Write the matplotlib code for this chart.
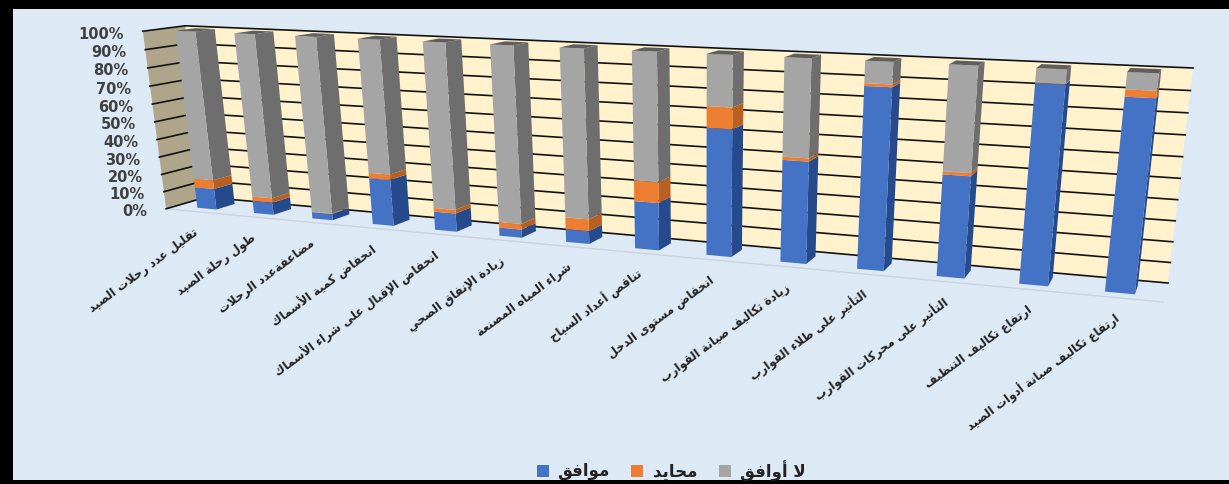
import numpy as np
import matplotlib
matplotlib.use('Agg')
import matplotlib.pyplot as plt
from matplotlib.patches import Polygon, Rectangle

# 数据
categories = ['تقليل عدد رحلات الصيد', 'طول رحلة الصيد', 'مضاعفةعدد الرحلات', 'انخفاض كمية الأسماك',
              'انخفاض الإقبال على شراء الأسماك', 'زيادة الإنفاق الصحي', 'شراء المياه المصنعة',
              'تناقص أعداد السياح', 'انخفاض مستوى الدخل', 'زيادة تكاليف صيانة القوارب',
              'التأثير على طلاء القوارب', 'التأثير على محركات القوارب', 'ارتفاع تكاليف التنظيف',
              'ارتفاع تكاليف صيانة أدوات الصيد']
agree = [12, 7, 3.6, 25.5, 10, 4.4, 6.8, 24.7, 64.3, 51, 88.4, 49.3, 93.4, 89.3]
neutral = [5, 2.5, 0.3, 3, 2, 3, 6.3, 10.6, 10.6, 1.6, 1.3, 1.5, 0.2, 3.2]
disagree = [83, 90.5, 96.1, 71.5, 88, 92.6, 86.9, 64.7, 25.1, 47.4, 10.3, 49.2, 6.4, 7.5]
y_ticks = [0, 10, 20, 30, 40, 50, 60, 70, 80, 90, 100]
legend_names = ['موافق', 'محايد', 'لا أوافق']

front_colors = ['#4472C4', '#ED7D31', '#A5A5A5']
side_colors = ['#264B8C', '#B85F22', '#6E6E6E']
top_colors = ['#2E5597', '#C5651F', '#5E5E5E']

# 阿拉伯文连写: 基础码位和字形数量
forms = {'ء': (0xFE80, 1), 'آ': (0xFE81, 2), 'أ': (0xFE83, 2), 'ؤ': (0xFE85, 2), 'إ': (0xFE87, 2),
         'ئ': (0xFE89, 4), 'ا': (0xFE8D, 2), 'ب': (0xFE8F, 4), 'ة': (0xFE93, 2), 'ت': (0xFE95, 4),
         'ث': (0xFE99, 4), 'ج': (0xFE9D, 4), 'ح': (0xFEA1, 4), 'خ': (0xFEA5, 4), 'د': (0xFEA9, 2),
         'ذ': (0xFEAB, 2), 'ر': (0xFEAD, 2), 'ز': (0xFEAF, 2), 'س': (0xFEB1, 4), 'ش': (0xFEB5, 4),
         'ص': (0xFEB9, 4), 'ض': (0xFEBD, 4), 'ط': (0xFEC1, 4), 'ظ': (0xFEC5, 4), 'ع': (0xFEC9, 4),
         'غ': (0xFECD, 4), 'ف': (0xFED1, 4), 'ق': (0xFED5, 4), 'ك': (0xFED9, 4), 'ل': (0xFEDD, 4),
         'م': (0xFEE1, 4), 'ن': (0xFEE5, 4), 'ه': (0xFEE9, 4), 'و': (0xFEED, 2), 'ى': (0xFEEF, 2),
         'ي': (0xFEF1, 4)}
lam_alef = {'آ': 0xFEF5, 'أ': 0xFEF7, 'إ': 0xFEF9, 'ا': 0xFEFB}


def shape(text):
    out = []
    prev_joins = False
    i = 0
    while i < len(text):
        c = text[i]
        if c not in forms:
            out.append(c)
            prev_joins = False
            i += 1
            continue
        if c == 'ل' and i + 1 < len(text) and text[i + 1] in lam_alef:
            out.append(chr(lam_alef[text[i + 1]] + (1 if prev_joins else 0)))
            prev_joins = False
            i += 2
            continue
        base, n = forms[c]
        nxt = text[i + 1] if i + 1 < len(text) else ' '
        joins_next = n == 4 and nxt in forms and nxt != 'ء'
        if n == 1:
            g = base
        elif prev_joins and joins_next:
            g = base + 3
        elif prev_joins:
            g = base + 1
        elif joins_next:
            g = base + 2
        else:
            g = base
        out.append(chr(g))
        prev_joins = joins_next
        i += 1
    return ''.join(out)[::-1]


# 透视投影: 用箱体角点拟合相机矩阵 (x类别, d深度, z百分比)
n_cat = len(categories)
box_3d = [(-0.05, 0, 0), (-0.05, 0, 100), (-0.05, 1, 100), (-0.05, 1, 0), (n_cat, 1, 100), (n_cat, 1, 0), (n_cat, 0, 0)]
box_px = [(166, 210), (143, 32), (185, 27), (206, 198), (1193, 69), (1168, 284), (1163, 303)]
rows = []
for (X, D, Z), (u, v) in zip(box_3d, box_px):
    rows.append([X, D, Z, 1, 0, 0, 0, 0, -u * X, -u * D, -u * Z, -u])
    rows.append([0, 0, 0, 0, X, D, Z, 1, -v * X, -v * D, -v * Z, -v])
P = np.linalg.svd(np.array(rows, dtype=float))[2][-1].reshape(3, 4)


def proj(x, d, z):
    p = P @ np.array([x, d, z, 1.0])
    return p[0] / p[2], p[1] / p[2]


fig = plt.figure(figsize=(12.29, 4.85), dpi=100, facecolor='black')
ax = fig.add_axes([0, 0, 1, 1])
ax.set_xlim(0, 1229)
ax.set_ylim(485, 0)
ax.axis('off')
ax.add_patch(Rectangle((13, 10), 1216, 471, fc='#DEE9F6', ec='none', zorder=0))
ax.add_patch(Rectangle((0, 0), 1229, 1, fc='#F4F4F4', ec='none', zorder=0))


def face(pts, color, z=3):
    ax.add_patch(Polygon([proj(*p) for p in pts], closed=True, fc=color, ec='none', zorder=z))


# 墙面
x_left = -0.05
face([(x_left, 1, 0), (n_cat, 1, 0), (n_cat, 1, 100), (x_left, 1, 100)], '#FFF2CC', 1)
face([(x_left, 0, 0), (x_left, 1, 0), (x_left, 1, 100), (x_left, 0, 100)], '#AFA58A', 1)
fx = [proj(x_left, 0, 0), proj(n_cat, 0, 0)]
ax.plot([fx[0][0], fx[1][0]], [fx[0][1], fx[1][1]], color='#CBD3DC', lw=1, zorder=1)

for t in y_ticks:
    a, b, c = proj(x_left, 0, t), proj(x_left, 1, t), proj(n_cat, 1, t)
    ax.plot([a[0], b[0], c[0]], [a[1], b[1], c[1]], color='#111111', lw=1.2, zorder=2)
    ax.text(a[0] - 19, a[1] + 2, str(t) + '%', ha='right', va='center', fontsize=10.5,
            fontweight='bold', color='#404040', family='DejaVu Sans')

# 柱子
half_w = 0.17
d0, d1 = 0.25, 0.72
for i in range(n_cat):
    x0, x1 = i + 0.5 - half_w, i + 0.5 + half_w
    base = 0
    for j, vals in enumerate([agree, neutral, disagree]):
        top = base + vals[i]
        face([(x1, d0, base), (x1, d1, base), (x1, d1, top), (x1, d0, top)], side_colors[j])
        face([(x0, d0, base), (x1, d0, base), (x1, d0, top), (x0, d0, top)], front_colors[j], 4)
        base = top
    face([(x0, d0, 100), (x1, d0, 100), (x1, d1, 100), (x0, d1, 100)], top_colors[2], 4)

# 类别标签
for i, name in enumerate(categories):
    px, py = proj(i + 0.5, 0, 0)
    ax.text(px, py + 18, shape(name), rotation=36.5, rotation_mode='anchor', ha='right', va='center',
            fontsize=8.4, fontweight='bold', color='#222222', family='DejaVu Sans')

# 图例
leg_box = [537, 631, 719]
leg_text = [557, 653, 740]
for j in range(3):
    ax.add_patch(Rectangle((leg_box[j], 466), 12, 12, fc=front_colors[j], ec='none', zorder=3))
    ax.text(leg_text[j], 471.5, shape(legend_names[j]), ha='left', va='center', fontsize=12,
            fontweight='bold', color='#222222', family='DejaVu Sans')

fig.savefig('out.png', dpi=100, facecolor='black')
